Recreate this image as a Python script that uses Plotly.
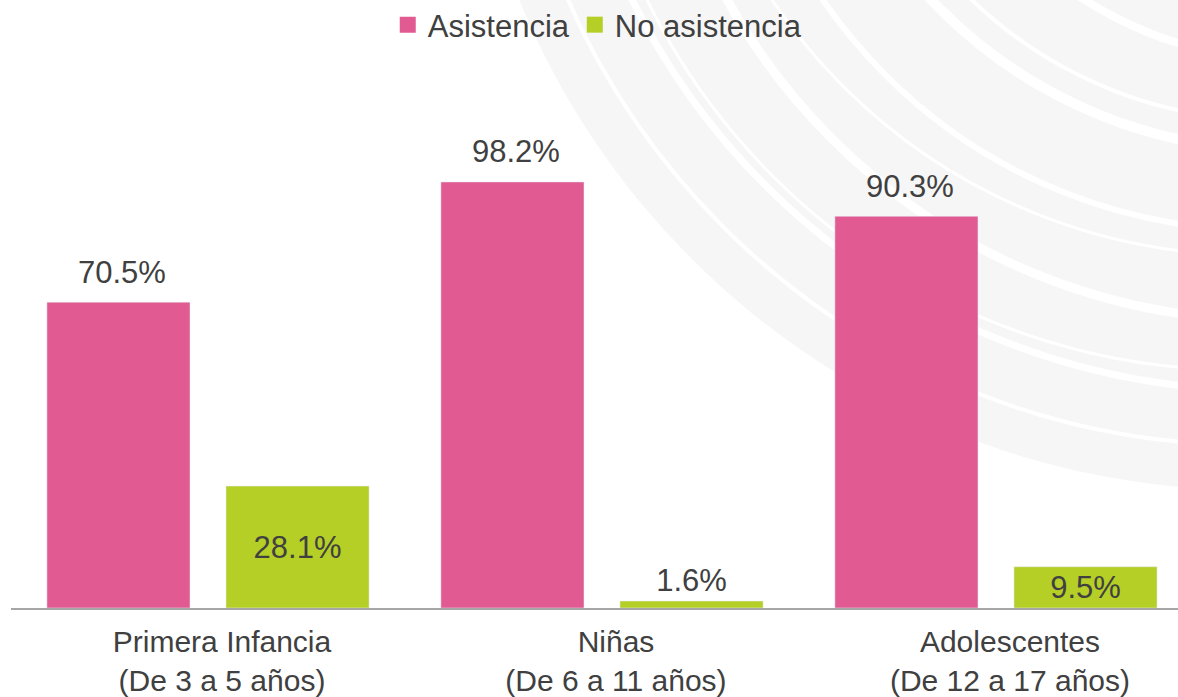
import plotly.graph_objects as go

categories = ["Primera Infancia<br>(De 3 a 5 años)", "Niñas<br>(De 6 a 11 años)", "Adolescentes<br>(De 12 a 17 años)"]
asistencia = [70.5, 98.2, 90.3]
no_asistencia = [28.1, 1.6, 9.5]
series_names = ["Asistencia", "No asistencia"]

PINK = "#E15B92"
GREEN = "#B5CF27"
TEXT = "#404040"
FONT = "Liberation Sans, Arial, sans-serif"
FS = 31

W, H = 1178, 697
ML, MT, MB = 11, 44, 89
PW = W - ML
PH = H - MT - MB


def px_x(sx):
    return (sx - ML) / PW


def px_y(sy):
    return (H - MB - sy) / PH


fig = go.Figure()
fig.add_trace(go.Bar(
    x=categories, y=asistencia, name=series_names[0], marker_color=PINK,
    showlegend=False, cliponaxis=False,
))
fig.add_trace(go.Bar(
    x=categories, y=no_asistencia, name=series_names[1], marker_color=GREEN,
    text=[f"{v:.1f}%" for v in no_asistencia], texttemplate="%{text}",
    textposition="auto", insidetextanchor="middle",
    insidetextfont=dict(color=TEXT, size=FS, family=FONT),
    outsidetextfont=dict(color=TEXT, size=FS, family=FONT),
    constraintext="none", showlegend=False, cliponaxis=False,
))
for name, col in zip(series_names, [PINK, GREEN]):
    fig.add_trace(go.Scatter(x=[None], y=[None], mode="markers", name=name,
                             marker=dict(symbol="square", size=16, color=col)))

for cat, v in zip(categories, asistencia):
    fig.add_annotation(x=cat, y=v, text=f"{v:.1f}%", showarrow=False,
                       xshift=-86, yshift=30, yanchor="middle",
                       font=dict(size=FS, color=TEXT, family=FONT))

shapes = []
def circle(cx, cy, r, **kw):
    return dict(type="circle", xref="paper", yref="paper", layer="below",
                x0=px_x(cx - r), x1=px_x(cx + r), y0=px_y(cy + r), y1=px_y(cy - r), **kw)

shapes.append(circle(1250, -300, 790, fillcolor="#F6F6F6", line=dict(width=0)))
for (cx, cy, r, w) in [(1250, -300, 745, 4), (1260, -310, 700, 7), (1240, -290, 660, 3),
                        (1270, -300, 620, 9), (1250, -320, 575, 3), (1260, -300, 530, 6),
                        (1280, -330, 480, 10), (1270, -310, 430, 4), (1290, -320, 380, 8),
                        (1300, -330, 330, 5)]:
    shapes.append(circle(cx, cy, r, line=dict(color="white", width=w)))

fig.update_layout(
    width=W, height=H,
    margin=dict(l=ML, r=0, t=MT, b=MB, autoexpand=False),
    paper_bgcolor="white", plot_bgcolor="rgba(0,0,0,0)",
    barmode="group", bargap=0.091, bargroupgap=0.201,
    font=dict(family=FONT, size=FS, color=TEXT),
    showlegend=True,
    legend=dict(orientation="h", xref="container", yref="container",
                x=0.507, xanchor="center", y=1 - 25 / H, yanchor="middle",
                font=dict(size=FS, color=TEXT), itemwidth=30, tracegroupgap=0,
                bgcolor="rgba(0,0,0,0)"),
    shapes=shapes,
)
fig.update_xaxes(range=[-0.5, 2.462], showgrid=False, showline=True, linecolor="#A6A6A6",
                 linewidth=2, ticks="outside", ticklen=6, tickcolor="rgba(0,0,0,0)",
                 ticklabelshift=14,
                 tickfont=dict(size=30, color=TEXT, family=FONT), fixedrange=True)
fig.update_yaxes(range=[0, 130], visible=False, showgrid=False, zeroline=False, fixedrange=True)

fig.write_html("out.html", config={"displayModeBar": False},
               post_script="document.body.style.margin='0';document.body.style.overflow='hidden';")
